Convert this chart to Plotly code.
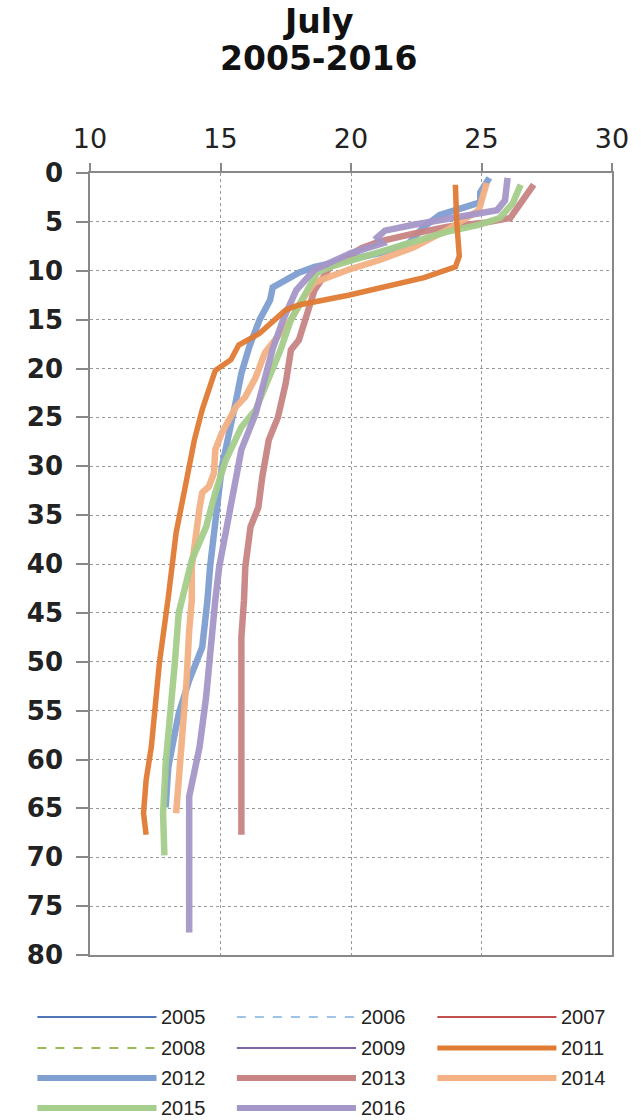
import plotly.graph_objects as go

# Temperature (°C) vs depth (m) profiles, July 2005-2016
years = ["2005", "2006", "2007", "2008", "2009", "2011",
         "2012", "2013", "2014", "2015", "2016"]
colors = ["#4F75B8", "#9DC3E6", "#C0504D", "#9BBB59", "#8064A2", "#E07B33",
          "#7F9FD0", "#C98484", "#F4B183", "#A6CE8C", "#A596C8"]
dashes = ["solid", "dash", "solid", "dash", "solid", "solid",
          "solid", "solid", "solid", "solid", "solid"]
widths = [1.5, 1.5, 1.5, 1.5, 1.5, 5.5, 6.5, 6.5, 6.5, 6.5, 6.5]

depth_2011 = [1.2, 5, 8.5, 9.6, 10.7, 11.8, 12.5, 13.5, 14.0, 16.4, 17.6, 19.1,
              20.2, 24.2, 27.3, 31.4, 36.8, 43.4, 50.1, 58.7, 62.1, 65.5, 67.7]
temp_2011 = [24.0, 24.05, 24.15, 24.0, 22.8, 21.1, 19.9, 18.0, 17.5, 16.5, 15.7, 15.4,
             14.8, 14.3, 14.0, 13.7, 13.3, 13.0, 12.66, 12.35, 12.15, 12.05, 12.15]

depth_2012 = [0.5, 2.0, 3.0, 3.5, 4.3, 5.5, 7.2, 8.2, 8.9, 9.6, 10.2, 11.7, 13.0,
              15.0, 17.8, 20.5, 23.2, 26.6, 30.1, 33.5, 36.8, 40.3, 43.7, 48.5,
              51.9, 55.3, 58.0, 60.8, 64.9]
temp_2012 = [25.3, 24.95, 24.95, 24.3, 23.4, 22.8, 22.2, 21.1, 19.9, 18.6, 18.0, 17.0, 16.9,
             16.5, 16.1, 15.8, 15.6, 15.3, 15.05, 14.9, 14.75, 14.6, 14.5, 14.3,
             13.8, 13.4, 13.2, 13.0, 12.9]

depth_2013 = [1.2, 2.4, 4.6, 5.1, 5.5, 6.2, 7.0, 7.7, 9.6, 12.0, 14.5, 17.1, 18.1,
              21.5, 25.0, 27.3, 31.1, 34.2, 36.2, 40.3, 43.7, 47.5, 67.7]
temp_2013 = [27.0, 26.7, 26.1, 25.1, 23.7, 22.4, 21.1, 20.4, 19.2, 18.6, 18.3, 18.0, 17.7,
             17.5, 17.2, 16.85, 16.6, 16.45, 16.15, 15.95, 15.9, 15.8, 15.8]

depth_2014 = [1.0, 3.8, 5.8, 7.6, 8.9, 9.9, 11.2, 12.7, 15.0, 16.8, 18.4, 20.9, 22.9,
              23.9, 26.6, 28.3, 30.7, 32.1, 32.7, 34.2, 36.8, 40.3, 43.7, 46.8,
              51.9, 57.0, 62.1, 65.5]
temp_2014 = [25.2, 24.9, 23.7, 22.4, 21.1, 19.9, 18.6, 18.2, 17.7, 17.2, 16.7, 16.35, 15.95,
             15.6, 15.05, 14.8, 14.75, 14.55, 14.3, 14.2, 14.05, 13.9, 13.9, 13.8,
             13.7, 13.55, 13.4, 13.3]

depth_2015 = [1.2, 3.1, 4.6, 5.3, 6.0, 7.0, 8.1, 8.9, 9.6, 10.2, 12.5, 15.0, 18.1,
              20.9, 24.2, 26.0, 29.4, 32.7, 36.2, 39.6, 42.7, 45.0, 50.1, 55.3,
              60.4, 65.5, 69.8]
temp_2015 = [26.5, 26.2, 25.7, 24.9, 23.7, 22.4, 21.1, 19.9, 19.2, 18.7, 18.2, 17.7, 17.3,
             16.85, 16.35, 15.8, 15.2, 14.8, 14.45, 13.9, 13.6, 13.4, 13.25, 13.05,
             12.9, 12.8, 12.85]

depth_2016 = [0.5, 2.8, 3.8, 4.1, 4.6, 5.3, 5.9, 6.6, 7.2, 8.2, 9.9, 12.0, 15.0,
              18.0, 21.0, 24.6, 28.3, 33.5, 36.8, 40.3, 43.7, 48.5, 53.6, 58.7,
              62.1, 63.8, 77.7]
temp_2016 = [26.0, 25.9, 25.6, 24.95, 23.7, 22.4, 21.3, 21.0, 21.2, 20.0, 18.6, 17.9, 17.4,
             17.0, 16.7, 16.35, 15.8, 15.45, 15.2, 14.95, 14.8, 14.65, 14.45, 14.2,
             13.9, 13.8, 13.8]

profiles = {
    "2012": (depth_2012, temp_2012),
    "2013": (depth_2013, temp_2013),
    "2014": (depth_2014, temp_2014),
    "2015": (depth_2015, temp_2015),
    "2016": (depth_2016, temp_2016),
    "2011": (depth_2011, temp_2011),
}

x_ticks = [10, 15, 20, 25, 30]
y_ticks = list(range(0, 81, 5))
title_lines = ["July", "2005-2016"]

fig = go.Figure()
for yr, (d, t) in profiles.items():
    i = years.index(yr)
    fig.add_trace(go.Scatter(
        x=t, y=d, mode="lines", name=yr, showlegend=False,
        line=dict(color=colors[i], width=widths[i], dash=dashes[i]),
        opacity=0.95,
    ))

# Pixel geometry of the plot area
L, R, T, B = 90, 25, 173, 165
W, H = 641, 1120
pw, ph = W - L - R, H - T - B


def px_x(x):
    return (x - L) / pw


def px_y(y):
    return (H - B - y) / ph


shapes = []
annotations = []

# Two-line bold title centred on the page
for txt, cy in zip(title_lines, [22, 58]):
    annotations.append(dict(xref="paper", yref="paper", x=px_x(W / 2), y=px_y(cy),
                            xanchor="center", yanchor="middle", showarrow=False,
                            text=f"<b>{txt}</b>",
                            font=dict(family="DejaVu Sans", size=33, color="#111")))

# Legend drawn as a 3-column grid of long line samples under the plot
col_x = [37, 238, 440]
row_y = [1017, 1048, 1078, 1108]
sample_len = 120
for i, yr in enumerate(years):
    cx = col_x[i % 3]
    cy = row_y[i // 3]
    yp = px_y(cy)
    shapes.append(dict(type="line", xref="paper", yref="paper",
                       x0=px_x(cx), x1=px_x(cx + sample_len), y0=yp, y1=yp,
                       line=dict(color=colors[i], width=max(widths[i] - 0.5, 2),
                                 dash=dashes[i])))
    annotations.append(dict(xref="paper", yref="paper",
                            x=px_x(cx + sample_len + 3), y=yp,
                            xanchor="left", yanchor="middle", showarrow=False,
                            text=yr, font=dict(family="Liberation Sans, Arial", size=20,
                                               color="#222")))

fig.update_layout(
    width=W, height=H,
    margin=dict(l=L, r=R, t=T, b=B),
    paper_bgcolor="white", plot_bgcolor="white",
    shapes=shapes, annotations=annotations,
    showlegend=False,
)
fig.update_xaxes(
    side="top", range=[10, 30], tickvals=x_ticks,
    ticks="outside", ticklen=8, tickcolor="#888", tickwidth=1.5,
    showline=True, linecolor="#888", linewidth=1.5, mirror=True,
    showgrid=True, gridcolor="#999", griddash="dot", gridwidth=1,
    tickfont=dict(family="DejaVu Sans", size=27, color="#222"),
    ticklabelstandoff=4, zeroline=False,
)
fig.update_yaxes(
    range=[80, 0], tickvals=y_ticks,
    ticks="outside", ticklen=12, tickcolor="#888", tickwidth=1.5,
    showline=True, linecolor="#888", linewidth=1.5, mirror=True,
    showgrid=True, gridcolor="#999", griddash="dot", gridwidth=1,
    tickfont=dict(family="DejaVu Sans", size=26, color="#222", weight="bold"),
    ticklabelstandoff=8, zeroline=False,
)

fig.write_html("out.html")
